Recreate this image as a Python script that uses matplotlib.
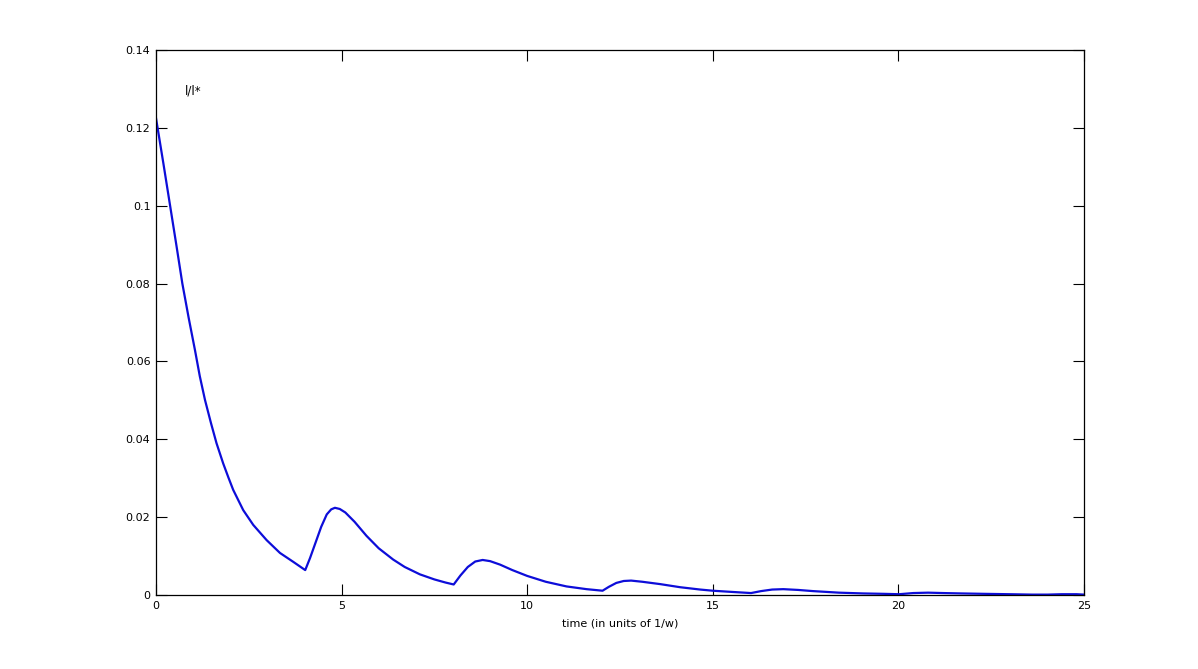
import numpy as np
import matplotlib.pyplot as plt

# values
t = [0.0, 0.2, 0.38, 0.55, 0.71, 0.88, 1.05, 1.18, 1.32, 1.48, 1.63, 1.81, 1.95,
     2.08, 2.22, 2.35, 2.62, 2.98, 3.34, 3.70, 4.02,
     4.15, 4.3, 4.45, 4.6, 4.72, 4.82, 4.95, 5.1, 5.35, 5.67, 6.0, 6.39, 6.7,
     7.11, 7.5, 7.8, 8.02,
     8.2, 8.4, 8.6, 8.8, 9.0, 9.27, 9.6, 10.0, 10.5, 11.06, 11.6, 12.03,
     12.2, 12.4, 12.6, 12.8, 13.1, 13.58, 14.12, 14.66, 15.0, 15.5, 16.03,
     16.3, 16.6, 16.9, 17.3, 17.7, 18.4, 19.05, 19.6, 20.02,
     20.4, 20.8, 21.2, 21.7, 22.3, 23.0, 23.6, 24.02, 24.4, 24.8, 25.0]
ratio = [0.1225, 0.1108, 0.1000, 0.0898, 0.0800, 0.0712, 0.0629, 0.0562, 0.0501,
         0.0442, 0.0390, 0.0338, 0.0302, 0.0270, 0.0243, 0.0218, 0.0180, 0.0141,
         0.0108, 0.0085, 0.0064,
         0.0095, 0.0135, 0.0175, 0.0207, 0.0220, 0.0224, 0.0221, 0.0212, 0.0188,
         0.0152, 0.0120, 0.0091, 0.0072, 0.0053, 0.0040, 0.0032, 0.0027,
         0.0050, 0.0072, 0.0086, 0.0090, 0.0087, 0.0078, 0.0064, 0.0049, 0.0034,
         0.0022, 0.0015, 0.0011,
         0.0021, 0.0031, 0.0036, 0.0037, 0.0034, 0.0028, 0.0020, 0.0014, 0.0011,
         0.0008, 0.0005,
         0.0010, 0.0014, 0.0015, 0.0013, 0.0010, 0.0006, 0.0004, 0.0003, 0.0002,
         0.0005, 0.0006, 0.0005, 0.0004, 0.0003, 0.0002, 0.0001, 0.0001, 0.0002,
         0.0002, 0.0001]

xticks = [0, 5, 10, 15, 20, 25]
yticks = [0, 0.02, 0.04, 0.06, 0.08, 0.1, 0.12, 0.14]
ytick_labels = ["0", "0.02", "0.04", "0.06", "0.08", "0.1", "0.12", "0.14"]

fig = plt.figure(figsize=(11.98, 6.69), dpi=100)
ax = fig.add_axes([156/1198, 1 - 595/669, (1084-156)/1198, (595-50)/669])

ax.plot(t, ratio, color=(0.05, 0.05, 0.85), linewidth=1.6)

ax.set_xlim(0, 25)
ax.set_ylim(0, 0.14)
ax.set_xticks(xticks)
ax.set_xticklabels([str(v) for v in xticks])
ax.set_yticks(yticks)
ax.set_yticklabels(ytick_labels)
ax.tick_params(direction='in', length=8, width=0.8, top=True, right=True,
               labelsize=8, pad=4)
for s in ax.spines.values():
    s.set_linewidth(0.9)

ax.set_xlabel('time (in units of 1/w)', fontsize=8, labelpad=6)
ax.text(0.78, 0.1285, 'l/l*', fontsize=8.5)

fig.savefig("out.png", dpi=100)
